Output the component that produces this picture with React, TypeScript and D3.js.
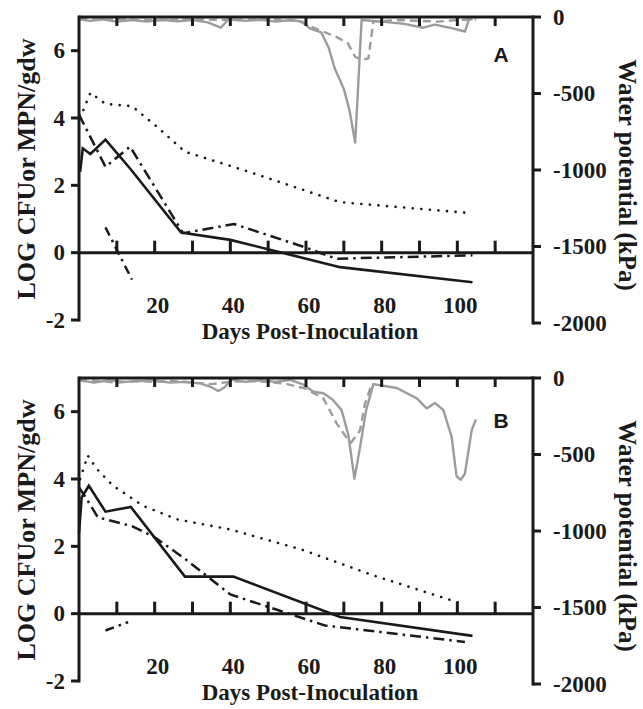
import React, { useRef, useEffect } from 'react';
import * as d3 from 'd3';

// ---- panel A (day, log CFU or kPa) ----
const solidA = [[0.3, 2.4], [1, 3.1], [3, 2.93], [7, 3.36], [13.5, 2.5], [27, 0.6], [40, 0.38], [69, -0.43], [104, -0.88]];
const dottedA = [[0.3, 4.0], [3, 4.75], [7, 4.42], [14, 4.35], [20, 3.8], [28, 3.0], [45, 2.4], [69, 1.5], [104, 1.17]];
const dashDotA = [[0, 4.1], [7, 2.55], [13.5, 3.15], [27.5, 0.58], [41, 0.85], [60, 0.15], [68, -0.18], [104, -0.08]];
const shortA = [[7, 0.75], [14, -0.8]];
const graySolidA = [[0, -15], [3, -25], [6, -15], [10, -30], [14, -20], [18, -30], [22, -18], [26, -28], [30, -20], [34, -35], [37.5, -70], [39.5, -15], [44, -25], [48, -18], [52, -30], [56, -20], [59, -30], [61, -75], [64, -100], [66, -200], [67.5, -330], [70, -470], [71.5, -610], [73, -820], [74.7, -20], [80, -30], [86, -45], [91, -70], [94, -50], [98, -70], [102, -95], [103, -20], [104, -10]];
const grayDashA = [[0, -10], [5, -20], [10, -15], [20, -22], [30, -15], [40, -20], [50, -15], [58, -25], [61, -60], [64, -90], [68, -130], [71, -170], [73, -260], [75, -280], [76.5, -270], [77.8, -30], [85, -20], [95, -30], [100, -20], [105, -15]];

// ---- panel B ----
const solidB = [[0, 2.4], [0.7, 3.45], [2.6, 3.8], [7, 3.03], [13.7, 3.17], [28, 1.1], [40.8, 1.1], [69, -0.1], [104, -0.66]];
const dottedB = [[0.3, 4.0], [2.3, 4.7], [4.7, 4.3], [9, 3.8], [17, 3.2], [26, 2.8], [40, 2.5], [59, 1.9], [78, 1.13], [102, 0.27]];
const dashDotB = [[0, 3.75], [1.5, 3.5], [5, 2.86], [14, 2.6], [20, 2.27], [28, 1.63], [40, 0.57], [50, 0.2], [65, -0.35], [102, -0.84]];
const shortB = [[7, -0.5], [13, -0.25]];
const graySolidB = [[0, -15], [4, -30], [8, -15], [12, -25], [16, -20], [20, -15], [24, -30], [28, -25], [32, -35], [35, -60], [36.8, -85], [38.5, -60], [40.3, -10], [44, -25], [48, -15], [52, -25], [55.8, -13], [59, -40], [62, -90], [64.6, -100], [67, -140], [69.4, -210], [71.2, -374], [72.8, -658], [74.3, -450], [75.9, -210], [77.8, -40], [84, -65], [89.3, -133], [91.9, -199], [94.1, -163], [96.3, -210], [98.5, -385], [99.8, -643], [100.9, -665], [102, -626], [103.8, -341], [104.9, -271]];
const grayDashB = [[0, -10], [5, -20], [10, -30], [15, -20], [20, -25], [25, -20], [30, -30], [35, -40], [40, -25], [45, -20], [50, -25], [55, -40], [59.7, -68], [64.6, -133], [68.1, -297], [71.2, -407], [72, -420], [74.3, -341], [75.6, -166], [77, -68], [78, -40]];

const xTicks = [10, 20, 30, 40, 50, 60, 70, 80, 90, 100, 110];
const xLabels = [20, 40, 60, 80, 100];
const leftTicks = [-2, 0, 2, 4, 6];
const rightTicks = [0, -500, -1000, -1500, -2000];

const panels = [
    {letter: 'A', top: 17, letterY: 45, solid: solidA, dotted: dottedA, dashDot: dashDotA, short: shortA, graySolid: graySolidA, grayDash: grayDashA},
    {letter: 'B', top: 378, letterY: 50, solid: solidB, dotted: dottedB, dashDot: dashDotB, short: shortB, graySolid: graySolidB, grayDash: grayDashB}
];

const serif = 'Liberation Serif, Times New Roman, serif';

const App = () => {
    const svgRef = useRef<SVGSVGElement>(null);

    useEffect(() => {
        const svg = d3.select(svgRef.current);
        svg.selectAll('*').remove();

        const x = d3.scaleLinear().domain([0, 120]).range([79, 533]);

        panels.forEach(p => {
            const g = svg.append('g');
            const yL = d3.scaleLinear().domain([-2, 7]).range([p.top + 303, p.top]);
            const yR = d3.scaleLinear().domain([-2000, 0]).range([p.top + 306, p.top]);
            const lineL = d3.line<number[]>().x(d => x(d[0])).y(d => yL(d[1]));
            const lineR = d3.line<number[]>().x(d => x(d[0])).y(d => yR(d[1]));

            // water potential traces (gray)
            g.append('path').attr('d', lineR(p.grayDash)).attr('fill', 'none')
                .attr('stroke', '#9c9c9c').attr('stroke-width', 2.4).attr('stroke-dasharray', '8,5');
            g.append('path').attr('d', lineR(p.graySolid)).attr('fill', 'none')
                .attr('stroke', '#9c9c9c').attr('stroke-width', 2.4).attr('stroke-linejoin', 'round');

            // counts
            g.append('path').attr('d', lineL(p.dotted)).attr('fill', 'none')
                .attr('stroke', '#1a1a1a').attr('stroke-width', 2.6).attr('stroke-linecap', 'round')
                .attr('stroke-dasharray', '0.1,8.5');
            g.append('path').attr('d', lineL(p.dashDot)).attr('fill', 'none')
                .attr('stroke', '#1a1a1a').attr('stroke-width', 2.5).attr('stroke-dasharray', '11,5,2.5,5');
            g.append('path').attr('d', lineL(p.short)).attr('fill', 'none')
                .attr('stroke', '#1a1a1a').attr('stroke-width', 2.5).attr('stroke-dasharray', '9,5,2.5,5');
            g.append('path').attr('d', lineL(p.solid)).attr('fill', 'none')
                .attr('stroke', '#1a1a1a').attr('stroke-width', 2.6).attr('stroke-linejoin', 'miter');

            // frame lines
            const axisColor = '#1a1a1a';
            g.append('line').attr('x1', x(0)).attr('x2', x(120)).attr('y1', p.top).attr('y2', p.top)
                .attr('stroke', axisColor).attr('stroke-width', 3);
            g.append('line').attr('x1', x(0)).attr('x2', x(120)).attr('y1', yL(0)).attr('y2', yL(0))
                .attr('stroke', axisColor).attr('stroke-width', 3);
            g.append('line').attr('x1', x(0)).attr('x2', x(0)).attr('y1', p.top - 1.5).attr('y2', yL(-2) + 1.5)
                .attr('stroke', axisColor).attr('stroke-width', 3);
            g.append('line').attr('x1', x(120)).attr('x2', x(120)).attr('y1', p.top - 1.5).attr('y2', yR(-2000) + 1.5)
                .attr('stroke', axisColor).attr('stroke-width', 3);

            // x ticks on the zero line (up) and on the top line (down)
            xTicks.forEach(t => {
                g.append('line').attr('x1', x(t)).attr('x2', x(t)).attr('y1', yL(0)).attr('y2', yL(0) - 12)
                    .attr('stroke', axisColor).attr('stroke-width', 3);
                g.append('line').attr('x1', x(t)).attr('x2', x(t)).attr('y1', p.top).attr('y2', p.top + 9)
                    .attr('stroke', axisColor).attr('stroke-width', 3);
            });
            xLabels.forEach(t => {
                g.append('text').attr('x', x(t) + 3).attr('y', p.top + 296)
                    .attr('text-anchor', 'middle').attr('font-family', serif).attr('font-weight', 'bold')
                    .attr('font-size', 23).attr('fill', axisColor).text(t);
            });

            // left axis
            leftTicks.forEach(t => {
                g.append('line').attr('x1', x(0) - 8).attr('x2', x(0)).attr('y1', yL(t)).attr('y2', yL(t))
                    .attr('stroke', axisColor).attr('stroke-width', 3);
                g.append('text').attr('x', 65).attr('y', yL(t)).attr('dy', '0.34em')
                    .attr('text-anchor', 'end').attr('font-family', serif).attr('font-weight', 'bold')
                    .attr('font-size', 23).attr('fill', axisColor).text(t);
            });

            // right axis
            rightTicks.forEach(t => {
                g.append('line').attr('x1', x(120)).attr('x2', x(120) + 8).attr('y1', yR(t)).attr('y2', yR(t))
                    .attr('stroke', axisColor).attr('stroke-width', 3);
                g.append('text').attr('x', 553).attr('y', yR(t)).attr('dy', '0.34em')
                    .attr('text-anchor', 'start').attr('font-family', serif).attr('font-weight', 'bold')
                    .attr('font-size', 23).attr('fill', axisColor).text(t === 0 ? '0' : '-' + Math.abs(t));
            });

            // titles
            g.append('text').attr('transform', `translate(35, ${p.top + 152}) rotate(-90)`)
                .attr('text-anchor', 'middle').attr('font-family', serif).attr('font-weight', 'bold')
                .attr('font-size', 26).attr('fill', axisColor).text('LOG CFUor MPN/gdw');
            g.append('text').attr('transform', `translate(619, ${p.top + 158}) rotate(90)`)
                .attr('text-anchor', 'middle').attr('font-family', serif).attr('font-weight', 'bold')
                .attr('font-size', 25).attr('fill', axisColor).text('Water potential (kPa)');
            g.append('text').attr('x', 310).attr('y', p.top + 322)
                .attr('text-anchor', 'middle').attr('font-family', serif).attr('font-weight', 'bold')
                .attr('font-size', 23).attr('fill', axisColor).text('Days Post-Inoculation');

            // panel letter
            g.append('text').attr('x', 501).attr('y', p.top + p.letterY)
                .attr('text-anchor', 'middle').attr('font-family', 'Liberation Sans, Arial, sans-serif')
                .attr('font-weight', 'bold').attr('font-size', 21).attr('fill', axisColor).text(p.letter);
        });
    }, []);

    return <svg ref={svgRef} width={643} height={709}
                style={{position: 'absolute', left: 0, top: 0, background: '#fff'}}/>;
};

export default App;
